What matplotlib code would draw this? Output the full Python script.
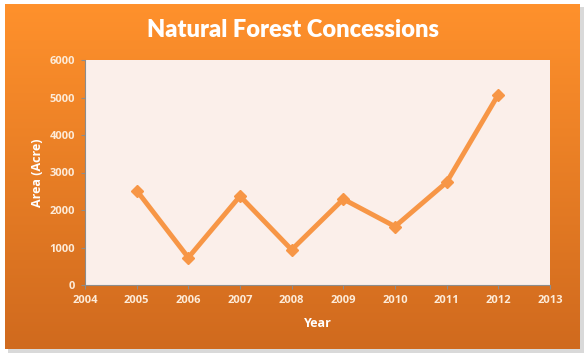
import matplotlib.pyplot as plt
import numpy as np
from matplotlib.colors import LinearSegmentedColormap
from matplotlib.patches import Rectangle

years = [2005, 2006, 2007, 2008, 2009, 2010, 2011, 2012]
area = [2520, 730, 2370, 940, 2290, 1560, 2740, 5080]
x_ticks = list(range(2004, 2014))
y_ticks = [0, 1000, 2000, 3000, 4000, 5000, 6000]

W, H = 586, 356
fig = plt.figure(figsize=(W / 100, H / 100), dpi=100)
fig.patch.set_facecolor("white")

# background layer in pixel coordinates (y down): shadow + gradient box
bg = fig.add_axes([0, 0, 1, 1])
bg.set_axis_off()
bg.add_patch(Rectangle((8, 7), 576, 346, facecolor="#d9d9d9",
                       edgecolor="none", zorder=0))
cmap = LinearSegmentedColormap.from_list("box", ["#ff912c", "#d06a1e"])
bg.imshow(np.linspace(0, 1, 256).reshape(-1, 1), aspect="auto", cmap=cmap,
          extent=[5, 580, 349, 4], zorder=1)
bg.set_xlim(0, W)
bg.set_ylim(H, 0)

ax = fig.add_axes([85 / W, 71 / H, 465 / W, 225 / H])
ax.set_facecolor("#fbefea")
ax.plot(years, area, color="#f79646", linewidth=3.5, marker="D",
        markersize=6, solid_joinstyle="miter")
ax.set_xlim(2004, 2013)
ax.set_ylim(0, 6000)
ax.set_xticks(x_ticks)
ax.set_yticks(y_ticks)

tick_font = dict(fontsize=8, fontweight="bold", family="Open Sans")
ax.set_xticklabels([str(t) for t in x_ticks], **tick_font)
ax.set_yticklabels([str(t) for t in y_ticks], **tick_font)
ax.tick_params(axis="both", colors="#8c8c8c", labelcolor="#fdebd8",
               length=3, width=0.8, pad=4)
for side in ["top", "right"]:
    ax.spines[side].set_visible(False)
for side in ["left", "bottom"]:
    ax.spines[side].set_color("#8c8c8c")
    ax.spines[side].set_linewidth(0.8)

label_font = dict(fontsize=9, fontweight="bold", color="white",
                  family="Open Sans")
ax.set_xlabel("Year", labelpad=8, **label_font)
ax.set_ylabel("Area (Acre)", labelpad=4, **label_font)

fig.text(293 / W, 1 - 30 / H, "Natural Forest Concessions", ha="center",
         va="center", fontsize=17, fontweight="heavy", color="white",
         family="Lato")

fig.savefig("out.png", dpi=100)
